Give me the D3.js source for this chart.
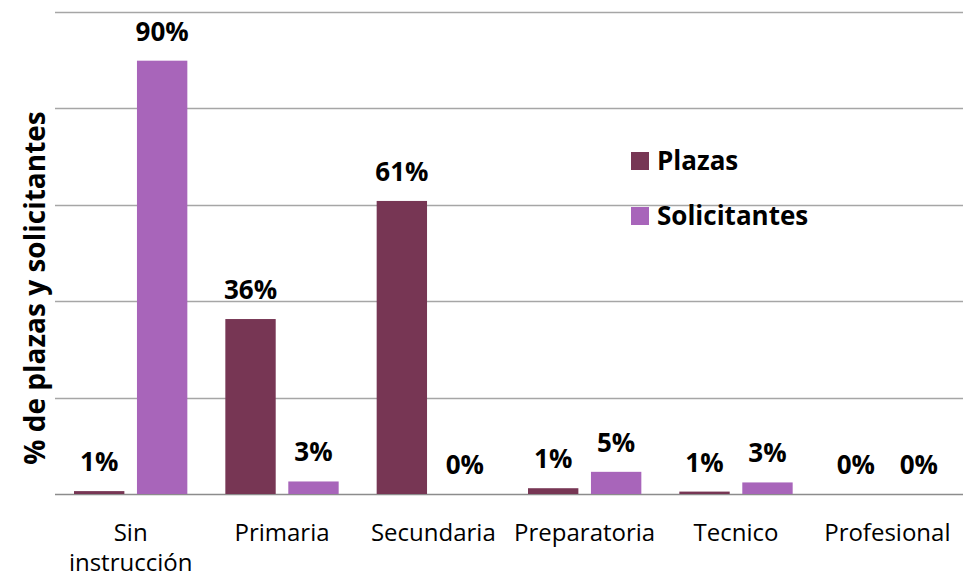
<!DOCTYPE html>
<meta charset="utf-8">
<script src="https://d3js.org/d3.v7.min.js"></script>
<style>
  body { margin: 0; background: #fff; }
  text { font-family: "Open Sans", sans-serif; }
</style>
<div id="chart"></div>
<script>
  // data
  var categories = ["Sin instrucción", "Primaria", "Secundaria", "Preparatoria", "Tecnico", "Profesional"];
  var series = ["Plazas", "Solicitantes"];
  var plazas = [0.6, 36.3, 60.8, 1.2, 0.5, 0];
  var solicitantes = [89.9, 2.6, 0, 4.6, 2.4, 0];
  var plazasLabels = ["1%", "36%", "61%", "1%", "1%", "0%"];
  var solicitantesLabels = ["90%", "3%", "0%", "5%", "3%", "0%"];
  var gridTicks = [0, 20, 40, 60, 80, 100];
  var colors = ["#773654", "#A865BA"];

  var width = 963, height = 580;
  var margin = {top: 12, right: 0, bottom: 86, left: 55};

  var svg = d3.select("#chart").append("svg")
    .attr("width", width).attr("height", height);

  var g = svg.append("g").attr("transform", "translate(" + margin.left + "," + margin.top + ")");
  var w = width - margin.left - margin.right,
      h = height - margin.top - margin.bottom;

  var x = d3.scaleBand().domain(categories).range([0, w]).paddingInner(0).paddingOuter(0);
  var x1 = d3.scaleBand().domain(series).range([19, x.bandwidth() - 19]).paddingInner(0.2);
  var y = d3.scaleLinear().domain([0, 100]).range([h, 0]);

  // gridlines
  g.selectAll("line.grid").data(gridTicks).enter().append("line")
    .attr("class", "grid")
    .attr("x1", 0).attr("x2", w)
    .attr("y1", function(d) { return Math.round(y(d)) + 0.5; })
    .attr("y2", function(d) { return Math.round(y(d)) + 0.5; })
    .attr("stroke", function(d) { return d === 0 ? "#8c8c8c" : "#a6a6a6"; })
    .attr("stroke-width", 1.3);

  var rows = categories.map(function(c, i) {
    return {cat: c, vals: [
      {s: "Plazas", v: plazas[i], label: plazasLabels[i]},
      {s: "Solicitantes", v: solicitantes[i], label: solicitantesLabels[i]}
    ]};
  });

  var groups = g.selectAll("g.cat").data(rows).enter().append("g")
    .attr("class", "cat")
    .attr("transform", function(d) { return "translate(" + x(d.cat) + ",0)"; });

  groups.selectAll("rect").data(function(d) { return d.vals; }).enter().append("rect")
    .attr("x", function(d) { return x1(d.s); })
    .attr("width", x1.bandwidth())
    .attr("y", function(d) { return y(d.v); })
    .attr("height", function(d) { return h - y(d.v); })
    .attr("fill", function(d, i) { return colors[i]; });

  groups.selectAll("text.val").data(function(d) { return d.vals; }).enter().append("text")
    .attr("class", "val")
    .attr("x", function(d) { return x1(d.s) + x1.bandwidth() / 2; })
    .attr("y", function(d) { return y(d.v) - 20; })
    .attr("text-anchor", "middle")
    .style("font-size", "26px").style("font-weight", "bold")
    .text(function(d) { return d.label; });

  // category labels
  var xAxis = g.append("g").attr("transform", "translate(0," + h + ")");
  xAxis.selectAll("text").data(categories).enter().append("text")
    .attr("x", function(d) { return x(d) + x.bandwidth() / 2; })
    .attr("y", 47)
    .attr("text-anchor", "middle")
    .style("font-size", "24px")
    .each(function(d) {
      var words = d === "Sin instrucción" ? ["Sin", "instrucción"] : [d];
      var t = d3.select(this);
      words.forEach(function(wd, k) {
        t.append("tspan").attr("x", x(d) + x.bandwidth() / 2).attr("dy", k === 0 ? 0 : 30).text(wd);
      });
    });

  // y axis title
  svg.append("text")
    .attr("transform", "translate(45,288) rotate(-90)")
    .attr("text-anchor", "middle")
    .style("font-size", "28px").style("font-weight", "bold")
    .text("% de plazas y solicitantes");

  // legend
  var legend = svg.append("g").attr("transform", "translate(631,152)");
  series.forEach(function(s, i) {
    var lg = legend.append("g").attr("transform", "translate(0," + i * 55 + ")");
    lg.append("rect").attr("width", 18).attr("height", 18).attr("fill", colors[i]);
    lg.append("text").attr("x", 26).attr("y", 18)
      .style("font-size", "26px").style("font-weight", "bold").text(s);
  });
</script>
